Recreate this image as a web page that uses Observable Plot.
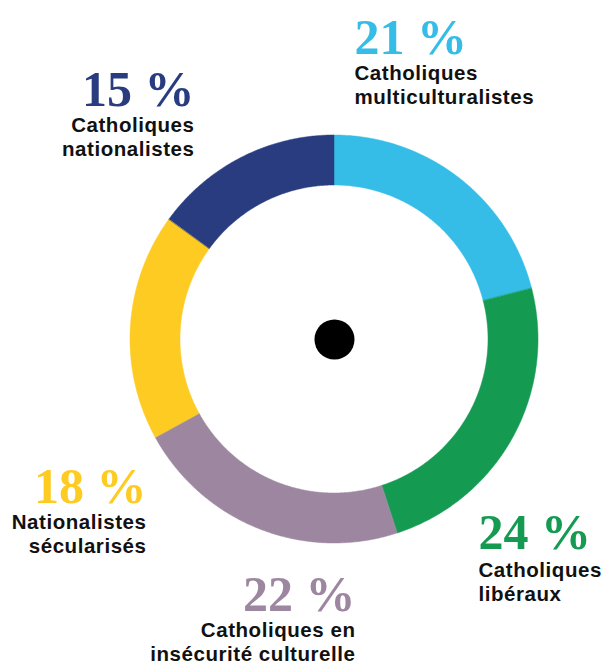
<!DOCTYPE html>
<html><head><meta charset="utf-8">
<script src="https://cdn.jsdelivr.net/npm/d3@7"></script>
<script src="https://cdn.jsdelivr.net/npm/@observablehq/plot@0.6"></script>
<style>
body{margin:0;background:#fff}
</style>
</head><body><div id="chart"></div>
<script>
// ---- data ----
const categories = ["Catholiques multiculturalistes", "Catholiques libéraux", "Catholiques en insécurité culturelle", "Nationalistes sécularisés", "Catholiques nationalistes"];
const labelLines = ["Catholiques\nmulticulturalistes", "Catholiques\nlibéraux", "Catholiques en\ninsécurité culturelle", "Nationalistes\nsécularisés", "Catholiques\nnationalistes"];
const shares = [21, 24, 22, 18, 15];
const valueLabels = ["21 %", "24 %", "22 %", "18 %", "15 %"];
const colors = ["#35bde7", "#159a52", "#9d87a0", "#fdcb22", "#283c7f"];

// ---- layout ----
const W = 606, H = 665;
const cx = 334, cy = 339, rOuter = 204, rInner = 154, dotR = 20;
const labelX = [354, 478, 355, 146, 194];
const valueY = [53, 548, 610, 502, 105];
const subY = [79, 576, 636, 528, 131];
const labelAnchor = ["start", "start", "end", "end", "end"];
const subSize = 20.5, subLH = 1.2;

// ---- build ring geometry from shares ----
const total = d3.sum(shares);
const ring = [];
let cum = 0;
shares.forEach((v, i) => {
  const a0 = cum / total * 2 * Math.PI;
  cum += v;
  const a1 = cum / total * 2 * Math.PI;
  const n = Math.max(2, Math.ceil((a1 - a0) / (Math.PI / 360)));
  for (let k = 0; k <= n; k++) {
    const a = a0 + (a1 - a0) * k / n;
    ring.push({
      name: categories[i], color: colors[i],
      xo: cx + rOuter * Math.sin(a), yo: cy - rOuter * Math.cos(a),
      xi: cx + rInner * Math.sin(a), yi: cy - rInner * Math.cos(a)
    });
  }
});

const labels = categories.map((c, i) => ({
  name: c, value: valueLabels[i], text: labelLines[i], color: colors[i],
  x: labelX[i], y: valueY[i], y2: subY[i], anchor: labelAnchor[i]
}));

const textMarks = [];
for (const anchor of ["start", "end"]) {
  const sub = labels.filter(d => d.anchor === anchor);
  textMarks.push(Plot.text(sub, {
    x: "x", y: "y", text: "value", fill: "color", textAnchor: anchor, lineAnchor: "bottom",
    fontFamily: "Liberation Serif", fontWeight: "bold", fontSize: 50
  }));
  textMarks.push(Plot.text(sub, {
    x: "x", y: "y2", text: "text", fill: "#111", textAnchor: anchor, lineAnchor: "bottom",
    fontFamily: "Liberation Sans", fontWeight: "bold", fontSize: subSize, lineHeight: subLH,
    dy: subLH * subSize
  }));
}

const chart = Plot.plot({
  width: W, height: H, margin: 0,
  style: {background: "#fff"},
  x: {domain: [0, W], range: [0, W], axis: null},
  y: {domain: [0, H], range: [0, H], axis: null},
  color: {type: "identity"},
  marks: [
    Plot.area(ring, {x1: "xo", y1: "yo", x2: "xi", y2: "yi", z: "name", fill: "color", stroke: "color", strokeWidth: 0.5, curve: "linear"}),
    Plot.dot([{x: cx, y: cy}], {x: "x", y: "y", r: dotR, fill: "#000", stroke: null}),
    ...textMarks
  ]
});
d3.select(chart).selectAll('g[font-family="Liberation Sans"]').style("letter-spacing", "0.55px");
document.getElementById("chart").append(chart);
</script>
</body></html>
